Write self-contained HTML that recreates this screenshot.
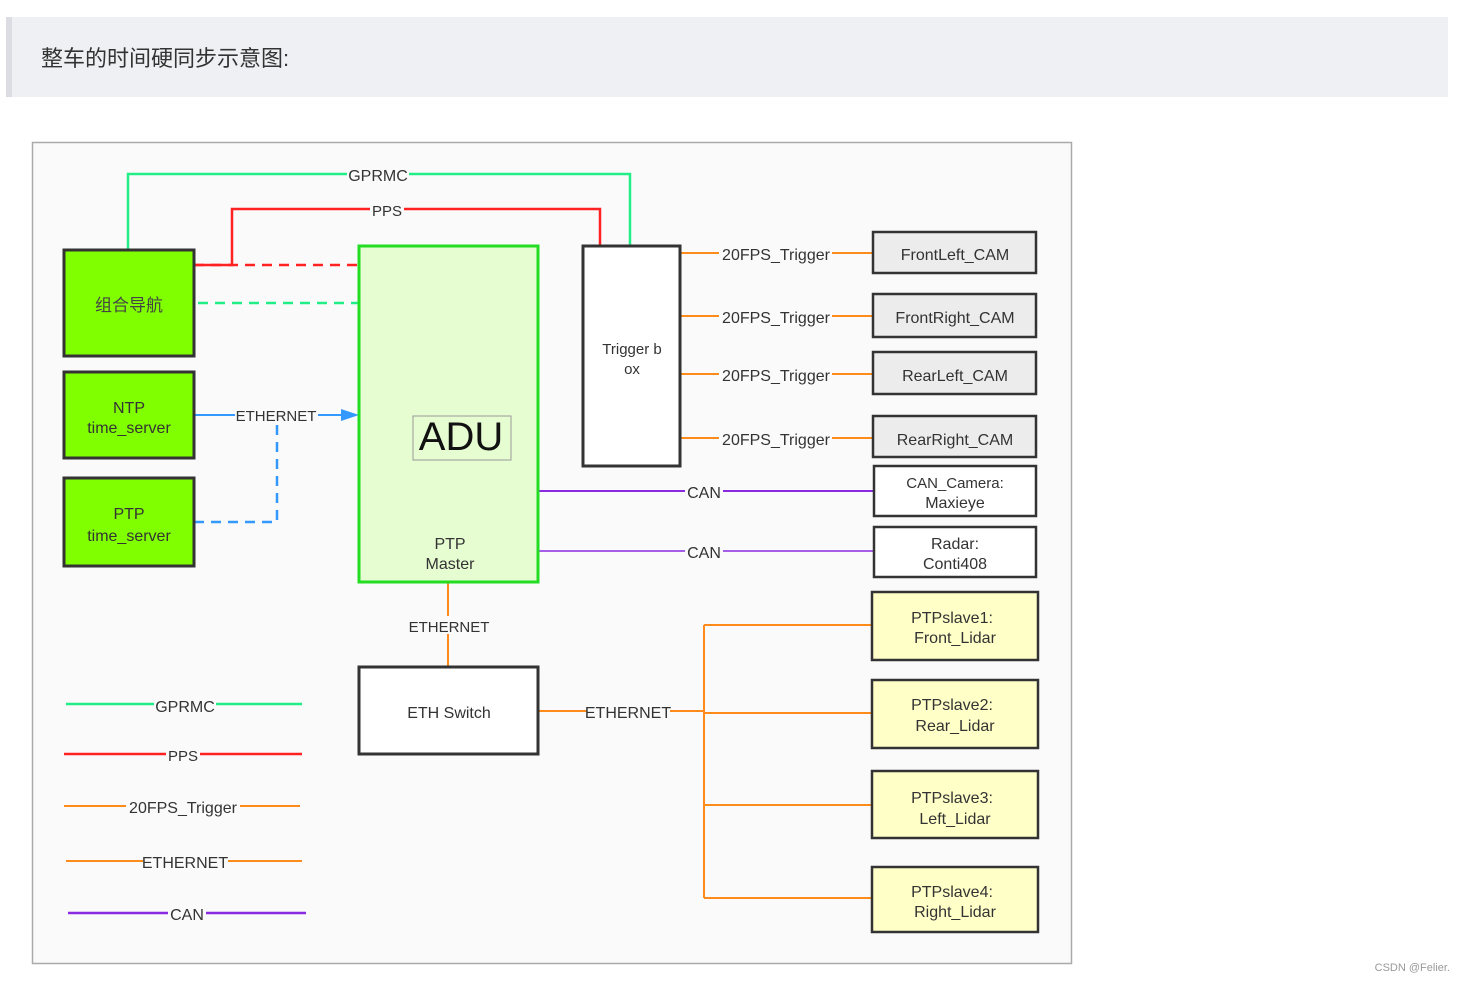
<!DOCTYPE html>
<html><head><meta charset="utf-8"><style>
body{margin:0;width:1465px;height:981px;background:#fff;overflow:hidden;font-family:"Liberation Sans","Noto Sans CJK SC",sans-serif}
</style></head><body>
<svg width="1465" height="981" xmlns="http://www.w3.org/2000/svg" font-family="Liberation Sans, Noto Sans CJK SC, sans-serif">
<rect x="6" y="17" width="1442" height="80" fill="#eef0f4"/>
<rect x="6" y="17" width="6" height="80" fill="#dcdde2"/>
<text x="41" y="66" font-size="22" fill="#333">整车的时间硬同步示意图:</text>
<rect x="32.5" y="142.5" width="1039" height="821" fill="#fafafa" stroke="#aaa" stroke-width="1.5"/>
<g fill="none" stroke-width="2.5">
<polyline points="128,250 128,174 630,174 630,246" stroke="#22ee88"/>
<polyline points="194,265 232,265 232,209 600,209 600,246" stroke="#ff2222"/>
<line x1="194" y1="265" x2="359" y2="265" stroke="#ff2222" stroke-dasharray="10,7"/>
<line x1="198" y1="303" x2="359" y2="303" stroke="#22ee88" stroke-dasharray="10,7"/>
<line x1="194" y1="415" x2="345" y2="415" stroke="#3399ff" stroke-width="2"/>
<polyline points="277,425 277,522 194,522" stroke="#3399ff" stroke-dasharray="10,7"/>
<g stroke="#ff8c1a" stroke-width="2">
<line x1="680" y1="253" x2="873" y2="253"/><line x1="680" y1="316" x2="873" y2="316"/>
<line x1="680" y1="374" x2="873" y2="374"/><line x1="680" y1="438" x2="873" y2="438"/>
<line x1="448" y1="582" x2="448" y2="667"/>
<line x1="538" y1="711" x2="704" y2="711"/>
<line x1="704" y1="625" x2="704" y2="898"/>
<line x1="704" y1="625" x2="872" y2="625"/><line x1="704" y1="713" x2="872" y2="713"/>
<line x1="704" y1="805" x2="872" y2="805"/><line x1="704" y1="898" x2="872" y2="898"/>
<line x1="64" y1="806" x2="300" y2="806"/><line x1="66" y1="861" x2="302" y2="861"/>
</g>
<line x1="538" y1="491" x2="874" y2="491" stroke="#8a2be2" stroke-width="2"/>
<line x1="538" y1="551" x2="874" y2="551" stroke="#8a2be2" stroke-width="1.5"/>
<line x1="66" y1="704" x2="302" y2="704" stroke="#22ee88"/>
<line x1="64" y1="754" x2="302" y2="754" stroke="#ff2222"/>
<line x1="68" y1="913" x2="306" y2="913" stroke="#8a2be2"/>
</g>
<polygon points="341,409 359,415 341,421" fill="#3399ff"/>
<g stroke="#333" stroke-width="3">
<rect x="64" y="250" width="130" height="106" fill="#80ff00"/>
<rect x="64" y="372" width="130" height="86" fill="#80ff00"/>
<rect x="64" y="478" width="130" height="88" fill="#80ff00"/>
<rect x="583" y="246" width="97" height="220" fill="#fff"/>
<rect x="359" y="667" width="179" height="87" fill="#fff"/>
</g>
<rect x="359" y="246" width="179" height="336" fill="#e5fdd0" stroke="#22dd22" stroke-width="3"/>
<rect x="413" y="416" width="98" height="44" fill="none" stroke="#999" stroke-width="1"/>
<g stroke="#333" stroke-width="2.5">
<rect x="873" y="232" width="163" height="41" fill="#ececec"/>
<rect x="873" y="294" width="163" height="43" fill="#ececec"/>
<rect x="873" y="352" width="163" height="42" fill="#ececec"/>
<rect x="873" y="416" width="163" height="41" fill="#ececec"/>
<rect x="874" y="466" width="162" height="50" fill="#fff"/>
<rect x="874" y="527" width="162" height="50" fill="#fff"/>
<rect x="872" y="592" width="166" height="68" fill="#ffffc8"/>
<rect x="872" y="680" width="166" height="68" fill="#ffffc8"/>
<rect x="872" y="771" width="166" height="67" fill="#ffffc8"/>
<rect x="872" y="867" width="166" height="65" fill="#ffffc8"/>
</g>
<g font-size="16" fill="#333" text-anchor="middle">
<g fill="#fafafa" stroke="none">
<rect x="347" y="165" width="62" height="18"/><rect x="370" y="201" width="34" height="17"/>
<rect x="235" y="406" width="83" height="18"/>
<rect x="719" y="244" width="113" height="19"/><rect x="719" y="307" width="113" height="19"/>
<rect x="719" y="365" width="113" height="19"/><rect x="719" y="429" width="113" height="19"/>
<rect x="685" y="482" width="38" height="18"/><rect x="685" y="542" width="38" height="18"/>
<rect x="407" y="616" width="84" height="18"/><rect x="587" y="702" width="83" height="18"/>
<rect x="154" y="695" width="62" height="18"/><rect x="166" y="745" width="34" height="17"/>
<rect x="126" y="797" width="114" height="19"/><rect x="143" y="852" width="85" height="18"/>
<rect x="168" y="904" width="38" height="18"/>
</g>
<text x="378" y="181">GPRMC</text><text x="387" y="216" font-size="15">PPS</text>
<text x="276" y="421" font-size="15">ETHERNET</text>
<text x="776" y="260">20FPS_Trigger</text><text x="776" y="323">20FPS_Trigger</text>
<text x="776" y="381">20FPS_Trigger</text><text x="776" y="445">20FPS_Trigger</text>
<text x="704" y="498">CAN</text><text x="704" y="558">CAN</text>
<text x="449" y="632" font-size="15">ETHERNET</text><text x="628" y="718">ETHERNET</text>
<text x="185" y="712">GPRMC</text><text x="183" y="761" font-size="15">PPS</text>
<text x="183" y="813">20FPS_Trigger</text><text x="185" y="868">ETHERNET</text>
<text x="187" y="920">CAN</text>
<text x="129" y="311" font-size="17" fill="#444">组合导航</text>
<text x="129" y="413">NTP</text><text x="129" y="433">time_server</text>
<text x="129" y="519">PTP</text><text x="129" y="541">time_server</text>
<text x="461" y="450" font-size="40" fill="#111">ADU</text>
<text x="450" y="549">PTP</text><text x="450" y="569">Master</text>
<text x="632" y="354" font-size="15">Trigger b</text><text x="632" y="374" font-size="15">ox</text>
<text x="449" y="718">ETH Switch</text>
<text x="955" y="260">FrontLeft_CAM</text><text x="955" y="323">FrontRight_CAM</text>
<text x="955" y="381">RearLeft_CAM</text><text x="955" y="445">RearRight_CAM</text>
<text x="955" y="488" font-size="15">CAN_Camera:</text><text x="955" y="508">Maxieye</text>
<text x="955" y="549">Radar:</text><text x="955" y="569">Conti408</text>
<text x="952" y="623">PTPslave1:</text><text x="955" y="643">Front_Lidar</text>
<text x="952" y="710">PTPslave2:</text><text x="955" y="731">Rear_Lidar</text>
<text x="952" y="803">PTPslave3:</text><text x="955" y="824">Left_Lidar</text>
<text x="952" y="897">PTPslave4:</text><text x="955" y="917">Right_Lidar</text>
</g>
<text x="1450" y="971" font-size="11" fill="#999" text-anchor="end">CSDN @Felier.</text>
</svg>
</body></html>
